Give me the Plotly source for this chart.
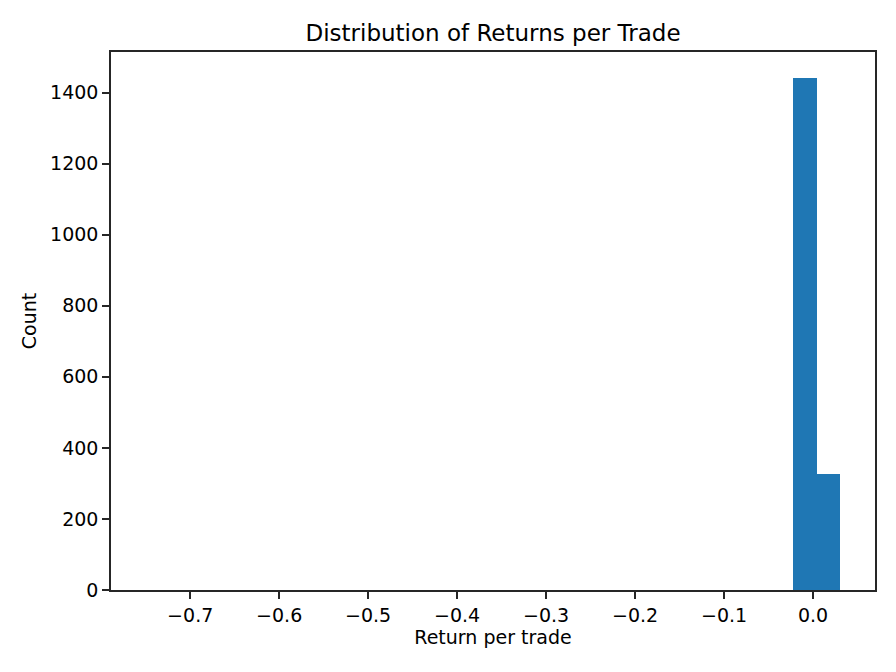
import plotly.graph_objects as go

# Histogram bins (30 bins from -0.75 to 0.03), only non-empty bins visible
bin_lefts = [-0.022, 0.004]
bin_width = 0.026
counts = [1442, 327]

title = "Distribution of Returns per Trade"
x_label = "Return per trade"
y_label = "Count"
x_ticks = [-0.7, -0.6, -0.5, -0.4, -0.3, -0.2, -0.1, 0.0]
x_tick_text = ["−0.7", "−0.6", "−0.5", "−0.4", "−0.3", "−0.2", "−0.1", "0.0"]
y_ticks = [0, 200, 400, 600, 800, 1000, 1200, 1400]

fig = go.Figure()
fig.add_trace(go.Bar(
    x=[l + bin_width / 2 for l in bin_lefts],
    y=counts,
    width=[bin_width] * len(counts),
    marker=dict(color="#1f77b4", line=dict(width=0)),
    hoverinfo="x+y",
))

axis_common = dict(
    showline=True, linecolor="#262626", linewidth=1.5, mirror=True,
    ticks="outside", ticklen=7, tickwidth=1.5, tickcolor="#262626",
    showgrid=False, zeroline=False,
    tickfont=dict(family="DejaVu Sans", size=19, color="black"),
    title_font=dict(family="DejaVu Sans", size=19, color="black"),
)

fig.update_layout(
    width=896, height=672,
    paper_bgcolor="white", plot_bgcolor="white",
    margin=dict(l=111, r=21, t=52, b=82),
    title=dict(text=title, xref="paper", x=0.5, xanchor="center",
               y=1 - 33 / 672, yanchor="middle",
               font=dict(family="DejaVu Sans", size=23, color="black")),
    xaxis=dict(range=[-0.789, 0.0697], tickvals=x_ticks, ticktext=x_tick_text,
               automargin=False,
               title=dict(text=x_label, standoff=6), **axis_common),
    yaxis=dict(range=[0, 1514], tickvals=y_ticks, automargin=False,
               title=dict(text=y_label, standoff=8), **axis_common),
    showlegend=False,
    bargap=0,
)

fig.write_html("out.html", config={"displayModeBar": False},
               post_script="document.body.style.margin='0';document.body.style.padding='0';")
